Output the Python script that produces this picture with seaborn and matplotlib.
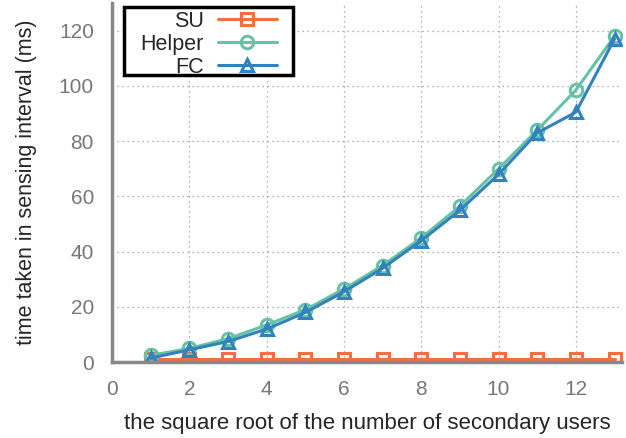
import matplotlib
matplotlib.use("Agg")
import matplotlib.pyplot as plt
from matplotlib.patches import Rectangle
import seaborn as sns
import pandas as pd

x_vals = [1, 2, 3, 4, 5, 6, 7, 8, 9, 10, 11, 12, 13]
su = [1.2, 1.2, 1.2, 1.2, 1.2, 1.2, 1.2, 1.2, 1.2, 1.2, 1.2, 1.2, 1.2]
helper = [2.5, 5, 8.5, 13.5, 19, 26.5, 35, 45, 56.5, 70, 84, 98.5, 118]
fc = [1.5, 4.5, 7.5, 12, 18, 25.5, 34, 44, 55, 68, 83, 90.5, 117]
series_names = ["SU", "Helper", "FC"]
colors = ["#f46d43", "#66c2a5", "#3182bd"]
markers = ["s", "o", "^"]
xticks = [0, 2, 4, 6, 8, 10, 12]
yticks = [0, 20, 40, 60, 80, 100, 120]

df = pd.DataFrame({"x": x_vals * 3,
                   "y": su + helper + fc,
                   "series": sum([[n] * len(x_vals) for n in series_names], [])})

sns.set_style("white")
plt.rcParams["font.family"] = ["Liberation Sans", "DejaVu Sans"]

fig = plt.figure(figsize=(6.26, 4.38), dpi=100)
ax = fig.add_axes([0.179, 0.173, 0.815, 0.82])

for name, c, m in zip(series_names, colors, markers):
    sub = df[df.series == name]
    sns.lineplot(data=sub, x="x", y="y", ax=ax, color=c, marker=m, lw=2.2,
                 markersize=9, markerfacecolor="none", markeredgecolor=c,
                 markeredgewidth=2.2, label=name)

ax.set_xlim(0, 13.2)
ax.set_ylim(0, 130)
ax.set_xticks(xticks)
ax.set_yticks(yticks)
ax.grid(True, linestyle=(0, (1, 3)), color="#999999", lw=0.9)
for s in ["top", "right"]:
    ax.spines[s].set_visible(False)
for s in ["left", "bottom"]:
    ax.spines[s].set_color("#888888")
    ax.spines[s].set_linewidth(2.5)
ax.tick_params(axis="both", colors="#888888", labelcolor="#777777", labelsize=15,
               length=4, width=1.2, direction="out", pad=9)
ax.set_xlabel("the square root of the number of secondary users", fontsize=16, labelpad=10)
ax.set_ylabel("time taken in sensing interval (ms)", fontsize=15.5, labelpad=16)

leg = ax.legend(loc="upper left", bbox_to_anchor=(0.03, 1.015), markerfirst=False,
                fontsize=15.5, frameon=False, handlelength=2.75,
                borderpad=0.1, labelspacing=0.1, handletextpad=0.65)
for t in leg.get_texts():
    t.set_ha("right")
leg._legend_box.align = "right"
leg.set_zorder(6)

fig.canvas.draw()
bb = leg.get_window_extent()
W, H = fig.bbox.width, fig.bbox.height
padx, top_pad, bottom_trim = 14, 1, 5
rect = Rectangle(((bb.x0 - padx) / W, (bb.y0 + bottom_trim) / H),
                 (bb.width + 2 * padx) / W, (bb.height - bottom_trim + top_pad) / H,
                 transform=fig.transFigure, facecolor="white", edgecolor="black",
                 linewidth=2.5, zorder=5, clip_on=False)
ax.add_artist(rect)

fig.savefig("out.png", dpi=100)
